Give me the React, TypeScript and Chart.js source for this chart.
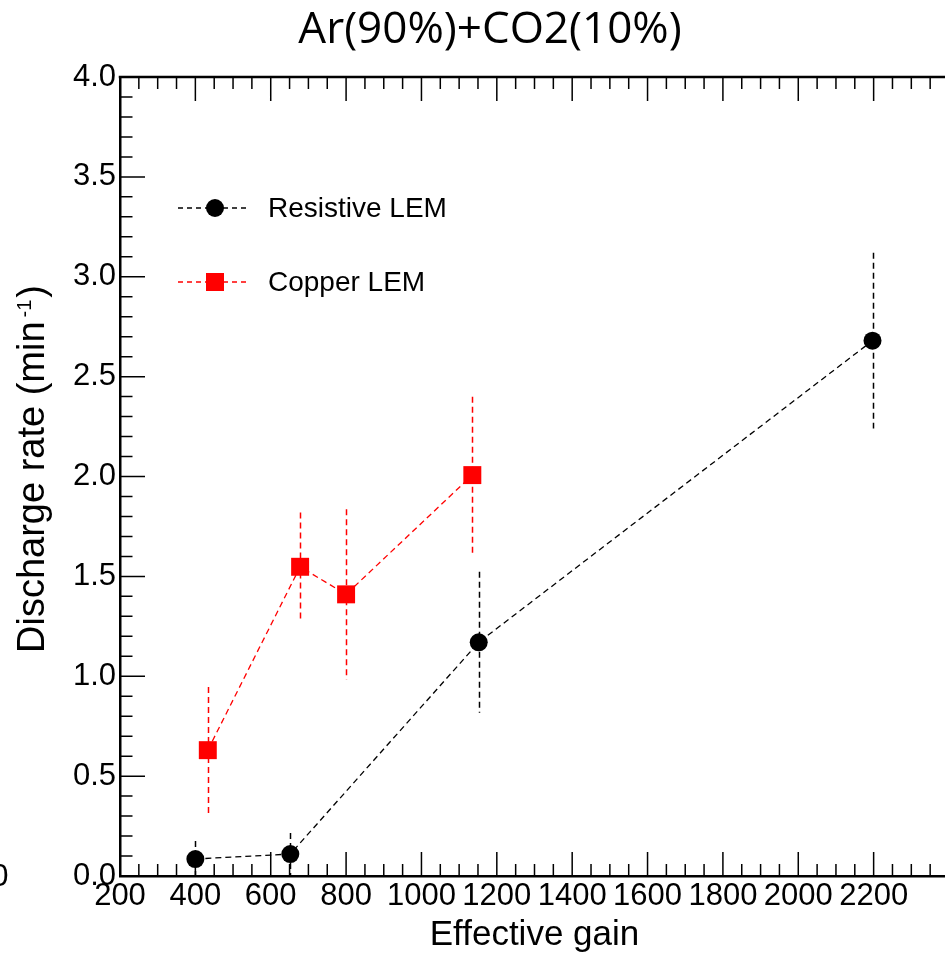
import React, { useEffect, useRef } from 'react';
import { Chart, registerables } from 'chart.js';

Chart.register(...registerables);

// ---- data ----
const chartTitle = 'Ar(90%)+CO2(10%)';
const xAxisTitle = 'Effective gain';
const yAxisTitleMain = 'Discharge rate (min';
const yAxisTitleSup = '-1';
const yAxisTitleEnd = ')';
const seriesNames = ['Resistive LEM', 'Copper LEM'];
const resistiveGain = [400, 652, 1152, 2197];
const resistiveRate = [0.085, 0.11, 1.17, 2.68];
const resistiveErr = [0.09, 0.105, 0.353, 0.44];
const copperGain = [433, 678, 800, 1135];
const copperRate = [0.63, 1.548, 1.41, 2.007];
const copperErr = [0.316, 0.272, 0.426, 0.392];
const xRange = [200, 2400];
const yRange = [0, 4];
const xLabelledTicks = [200, 400, 600, 800, 1000, 1200, 1400, 1600, 1800, 2000, 2200];
const strayLabel = '0';

const FONT = '"Liberation Sans", Arial, sans-serif';

const rootPlugin = {
  id: 'rootStyle',
  beforeDatasetsDraw(chart: any) {
    const ctx = chart.ctx as CanvasRenderingContext2D;
    const { left, right, top, bottom } = chart.chartArea;
    const xs = chart.scales.x;
    const ys = chart.scales.y;
    ctx.save();
    ctx.strokeStyle = '#000';
    ctx.lineWidth = 1.5;
    ctx.beginPath();
    for (let v = xs.min; v <= xs.max + 1e-6; v += 50) {
      const px = xs.getPixelForValue(v);
      const len = v % 200 === 0 ? 24 : 12;
      ctx.moveTo(px, bottom);
      ctx.lineTo(px, bottom - len);
      ctx.moveTo(px, top);
      ctx.lineTo(px, top + len);
    }
    for (let i = 0; i <= 40; i++) {
      const py = ys.getPixelForValue(i / 10);
      const len = i % 5 === 0 ? 25 : 12.5;
      ctx.moveTo(left, py);
      ctx.lineTo(left + len, py);
    }
    ctx.stroke();
    // top frame
    ctx.lineWidth = 2.5;
    ctx.beginPath();
    ctx.moveTo(left - 1.25, top);
    ctx.lineTo(right + 2, top);
    ctx.stroke();
    // error bars
    ctx.beginPath();
    ctx.rect(left, top, right - left, bottom - top);
    ctx.clip();
    chart.data.datasets.forEach((ds: any) => {
      const errs: number[] = ds.errors;
      ctx.strokeStyle = ds.borderColor;
      ctx.lineWidth = 1.5;
      ctx.setLineDash([6, 4]);
      ds.data.forEach((p: any, i: number) => {
        const px = Math.round(xs.getPixelForValue(p.x)) + 0.5;
        ctx.beginPath();
        ctx.moveTo(px, ys.getPixelForValue(p.y + errs[i]));
        ctx.lineTo(px, ys.getPixelForValue(p.y - errs[i]));
        ctx.stroke();
      });
    });
    ctx.restore();
  },
  afterDraw(chart: any) {
    const ctx = chart.ctx as CanvasRenderingContext2D;
    ctx.save();
    // legend
    const rows = [208, 282];
    chart.data.datasets.forEach((ds: any, i: number) => {
      const y = rows[i];
      ctx.strokeStyle = ds.borderColor;
      ctx.lineWidth = 1.3;
      ctx.setLineDash([5, 4]);
      ctx.beginPath();
      ctx.moveTo(178, y);
      ctx.lineTo(250, y);
      ctx.stroke();
      ctx.setLineDash([]);
      ctx.fillStyle = ds.pointBackgroundColor;
      if (ds.pointStyle === 'rect') {
        ctx.fillRect(215 - 9, y - 9, 18, 18);
      } else {
        ctx.beginPath();
        ctx.arc(215, y, 9, 0, Math.PI * 2);
        ctx.fill();
      }
      ctx.fillStyle = '#000';
      ctx.font = `28px ${FONT}`;
      ctx.textAlign = 'left';
      ctx.textBaseline = 'middle';
      ctx.fillText(ds.label, 268, y + 1);
    });
    // title
    ctx.fillStyle = '#000';
    ctx.font = '44px "Open Sans"';
    ctx.textAlign = 'center';
    ctx.textBaseline = 'alphabetic';
    ctx.fillText(chartTitle, 490, 43);
    // stray clipped label at far left
    ctx.font = `31px ${FONT}`;
    ctx.textAlign = 'right';
    ctx.textBaseline = 'middle';
    ctx.fillText(strayLabel, 8.5, 877);
    // y axis title
    ctx.translate(43.5, 653);
    ctx.rotate(-Math.PI / 2);
    ctx.textAlign = 'left';
    ctx.textBaseline = 'alphabetic';
    ctx.font = `38px ${FONT}`;
    ctx.fillText(yAxisTitleMain, 0, 0);
    let w = ctx.measureText(yAxisTitleMain).width + 4;
    ctx.font = `20px ${FONT}`;
    ctx.fillText(yAxisTitleSup, w, -13);
    w += ctx.measureText(yAxisTitleSup).width + 2;
    ctx.font = `38px ${FONT}`;
    ctx.fillText(yAxisTitleEnd, w, 0);
    ctx.restore();
  },
};

export default function App() {
  const ref = useRef<HTMLCanvasElement | null>(null);
  useEffect(() => {
    if (!ref.current) return;
    Chart.defaults.font.family = FONT;
    Chart.defaults.color = '#000';
    const chart = new Chart(ref.current, {
      type: 'scatter',
      data: {
        datasets: [
          {
            label: seriesNames[0],
            data: resistiveGain.map((x, i) => ({ x, y: resistiveRate[i] })),
            errors: resistiveErr,
            showLine: true,
            borderColor: '#000000',
            borderWidth: 1.3,
            borderDash: [6, 4],
            pointStyle: 'circle',
            pointRadius: 9,
            pointBorderWidth: 0,
            pointBackgroundColor: '#000000',
            pointHoverRadius: 9,
          } as any,
          {
            label: seriesNames[1],
            data: copperGain.map((x, i) => ({ x, y: copperRate[i] })),
            errors: copperErr,
            showLine: true,
            borderColor: '#ff0000',
            borderWidth: 1.3,
            borderDash: [6, 4],
            pointStyle: 'rect',
            pointRadius: 12.7,
            pointBorderWidth: 0,
            pointBackgroundColor: '#ff0000',
            pointHoverRadius: 12.7,
          } as any,
        ],
      },
      options: {
        responsive: false,
        animation: false,
        devicePixelRatio: 1,
        layout: { autoPadding: false, padding: { top: 77, left: 0, right: 0, bottom: 0 } },
        plugins: {
          legend: { display: false },
          tooltip: { enabled: false },
          title: { display: false },
        },
        scales: {
          x: {
            type: 'linear',
            position: 'bottom',
            min: xRange[0],
            max: xRange[1],
            grid: { display: false, drawTicks: false },
            border: { display: true, width: 2.5, color: '#000' },
            ticks: {
              stepSize: 200,
              autoSkip: false,
              maxRotation: 0,
              minRotation: 0,
              padding: 2,
              color: '#000',
              font: { size: 31, family: FONT },
              callback: (v: any) => (xLabelledTicks.includes(Number(v)) ? String(v) : ''),
            },
            title: {
              display: true,
              text: xAxisTitle,
              color: '#000',
              font: { size: 35, family: FONT, lineHeight: 1 },
              padding: { top: 0, bottom: 1.5 },
            },
            afterFit: (s: any) => {
              s.height = 78;
              s.paddingLeft = 0;
              s.paddingRight = 0;
            },
          },
          y: {
            type: 'linear',
            position: 'left',
            min: yRange[0],
            max: yRange[1],
            grid: { display: false, drawTicks: false },
            border: { display: true, width: 2.5, color: '#000' },
            ticks: {
              stepSize: 0.5,
              padding: 4,
              color: '#000',
              font: { size: 31, family: FONT },
              callback: (v: any) => Number(v).toFixed(1),
            },
            afterFit: (s: any) => {
              s.width = 120;
              s.paddingTop = 0;
              s.paddingBottom = 0;
            },
          },
        },
      },
      plugins: [rootPlugin],
    } as any);
    return () => chart.destroy();
  }, []);
  return (
    <div style={{ position: 'fixed', left: 0, top: 0, width: 945, height: 954, overflow: 'hidden', background: '#fff' }}>
      <canvas ref={ref} width={949} height={954} style={{ display: 'block' }} />
    </div>
  );
}
